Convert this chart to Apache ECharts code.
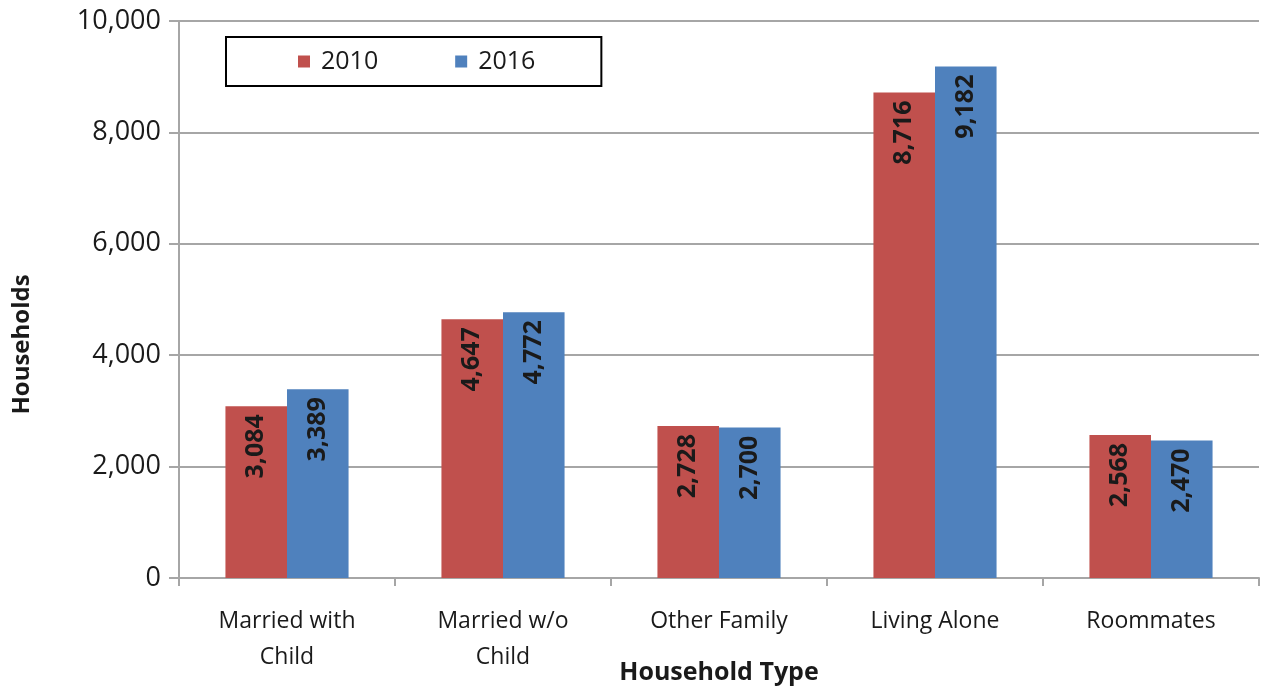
<!DOCTYPE html>
<html>
<head>
<meta charset="utf-8">
<script src="https://cdn.jsdelivr.net/npm/echarts@6/dist/echarts.min.js"></script>
<style>
  html, body { margin: 0; padding: 0; background: #fff; }
  #chart { width: 1262px; height: 686px; }
</style>
</head>
<body>
<div id="chart"></div>
<script>
// 数据
const categories = ['Married with\nChild', 'Married w/o\nChild', 'Other Family', 'Living Alone', 'Roommates'];
const values2010 = [3084, 4647, 2728, 8716, 2568];
const values2016 = [3389, 4772, 2700, 9182, 2470];
const yTicks = [0, 2000, 4000, 6000, 8000, 10000];

const font = '"Open Sans", "Noto Sans", sans-serif';
const textColor = '#1a1a1a';
const lineColor = '#a6a6a6';

// 柱子内的竖排数值
const barLabel = {
    show: true,
    position: 'insideTop',
    rotate: 90,
    align: 'right',
    verticalAlign: 'middle',
    distance: 8,
    fontFamily: font,
    fontSize: 25,
    fontWeight: 'bold',
    color: textColor,
    formatter: p => p.value.toLocaleString('en-US')
};

let myChart = echarts.init(document.getElementById('chart'));

myChart.setOption({
    animation: false,
    textStyle: { fontFamily: font },
    legend: {
        left: 226,
        top: 37,
        padding: [12, 66, 12, 72],
        borderColor: '#000',
        borderWidth: 2,
        itemWidth: 12,
        itemHeight: 12,
        itemGap: 77,
        icon: 'rect',
        textStyle: { fontFamily: font, fontSize: 25, color: textColor, padding: [0, 0, 0, 6] },
        data: ['2010', '2016']
    },
    grid: {
        left: 179,
        right: 3,
        top: 21,
        bottom: 108,
        outerBoundsMode: 'none'
    },
    // 横轴
    xAxis: {
        type: 'category',
        data: categories,
        name: 'Household Type',
        nameLocation: 'middle',
        nameGap: 82,
        nameMoveOverlap: false,
        nameTextStyle: { fontFamily: font, fontSize: 25, fontWeight: 'bold', color: textColor },
        axisLine: { lineStyle: { color: lineColor, width: 2 } },
        axisTick: { show: true, length: 8, lineStyle: { color: lineColor, width: 2 } },
        axisLabel: {
            fontFamily: font, fontSize: 23, color: textColor,
            lineHeight: 36, margin: 25, interval: 0
        }
    },
    // 纵轴
    yAxis: {
        type: 'value',
        min: yTicks[0],
        max: yTicks[yTicks.length - 1],
        interval: yTicks[1] - yTicks[0],
        name: 'Households',
        nameLocation: 'middle',
        nameGap: 145,
        nameMoveOverlap: false,
        nameTextStyle: { fontFamily: font, fontSize: 24, fontWeight: 'bold', color: textColor, padding: [0, 90, 0, 0] },
        axisLine: { show: true, lineStyle: { color: lineColor, width: 2 } },
        axisTick: { show: true, length: 10, lineStyle: { color: lineColor, width: 2 } },
        axisLabel: {
            fontFamily: font, fontSize: 27, color: textColor, margin: 18,
            formatter: v => v.toLocaleString('en-US')
        },
        splitLine: { lineStyle: { color: lineColor, width: 2 } }
    },
    series: [
        {
            name: '2010',
            type: 'bar',
            data: values2010,
            barGap: '0%',
            barCategoryGap: '43%',
            itemStyle: { color: '#C0504D' },
            label: barLabel
        },
        {
            name: '2016',
            type: 'bar',
            data: values2016,
            itemStyle: { color: '#4F81BD' },
            label: barLabel
        }
    ]
});
</script>
</body>
</html>
